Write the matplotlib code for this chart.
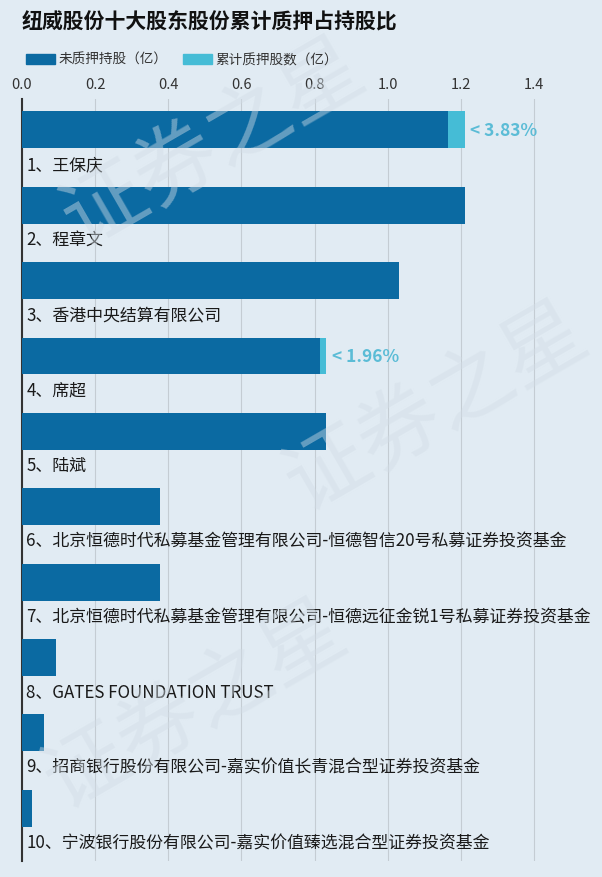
import matplotlib.pyplot as plt
from matplotlib.patches import Rectangle

plt.rcParams['font.family'] = ['Noto Sans CJK SC', 'DejaVu Sans']

names = ['1、王保庆', '2、程章文', '3、香港中央结算有限公司', '4、席超', '5、陆斌',
         '6、北京恒德时代私募基金管理有限公司-恒德智信20号私募证券投资基金',
         '7、北京恒德时代私募基金管理有限公司-恒德远征金锐1号私募证券投资基金',
         '8、GATES FOUNDATION TRUST',
         '9、招商银行股份有限公司-嘉实价值长青混合型证券投资基金',
         '10、宁波银行股份有限公司-嘉实价值臻选混合型证券投资基金']
unpledged = [1.165, 1.211, 1.031, 0.816, 0.832, 0.377, 0.377, 0.093, 0.060, 0.027]
pledged = [0.046, 0, 0, 0.016, 0, 0, 0, 0, 0, 0]
pct_labels = ['3.83%', '', '', '1.96%', '', '', '', '', '', '']

bg = '#e1ebf3'
dark = '#0b6aa2'
light = '#45bcd6'

fig = plt.figure(figsize=(6.02, 8.78), dpi=100, facecolor=bg)
ax = fig.add_axes([22 / 602, 1 - 862 / 878, 576 / 602, 762 / 878])
ax.set_facecolor(bg)

# faint watermark
for (x, y) in [(0.08, 0.72), (0.45, 0.42), (0.05, 0.08)]:
    fig.text(x, y, '证券之星', fontsize=60, color='#d2dde6', alpha=0.45,
             rotation=30, zorder=0)

ypos = list(range(len(names)))
ax.barh(ypos, unpledged, height=0.49, color=dark, zorder=3)
ax.barh(ypos, pledged, left=unpledged, height=0.49, color=light, zorder=3)

for i, name in enumerate(names):
    ax.text(0.012, i + 0.45, name, fontsize=12.2, va='center', ha='left', color='#1a1a1a')
    if pct_labels[i]:
        ax.text(unpledged[i] + pledged[i] + 0.015, i, '< ' + pct_labels[i], fontsize=12.5,
                fontweight='bold', color='#5bbcd6', va='center', ha='left')

ax.set_xlim(0, 1.575)
ax.set_ylim(9.70, -0.41)
ax.xaxis.tick_top()
ax.set_xticks([0.0, 0.2, 0.4, 0.6, 0.8, 1.0, 1.2, 1.4])
ax.set_xticklabels(['0.0', '0.2', '0.4', '0.6', '0.8', '1.0', '1.2', '1.4'])
ax.tick_params(axis='x', length=0, labelsize=10.5, pad=6, colors='#333333')
ax.set_yticks([])
ax.grid(axis='x', color='#c4ccd3', linewidth=0.8, zorder=0)
for s in ['top', 'right', 'bottom']:
    ax.spines[s].set_visible(False)
ax.spines['left'].set_color('#333333')
ax.spines['left'].set_linewidth(1.5)

fig.text(22 / 602, 1 - 22 / 878, '纽威股份十大股东股份累计质押占持股比', fontsize=15,
         fontweight='bold', va='center', ha='left', color='#111111')

# legend
ly = 1 - 60 / 878
fig.patches.append(Rectangle((26 / 602, ly - 5 / 878), 29 / 602, 10 / 878,
                             transform=fig.transFigure, color=dark))
fig.text(58 / 602, ly, '未质押持股（亿）', fontsize=9.8, va='center', ha='left', color='#333333')
fig.patches.append(Rectangle((183 / 602, ly - 5 / 878), 29 / 602, 10 / 878,
                             transform=fig.transFigure, color=light))
fig.text(215 / 602, ly, '累计质押股数（亿）', fontsize=9.8, va='center', ha='left', color='#333333')

fig.savefig('out.png', dpi=100, facecolor=bg)
